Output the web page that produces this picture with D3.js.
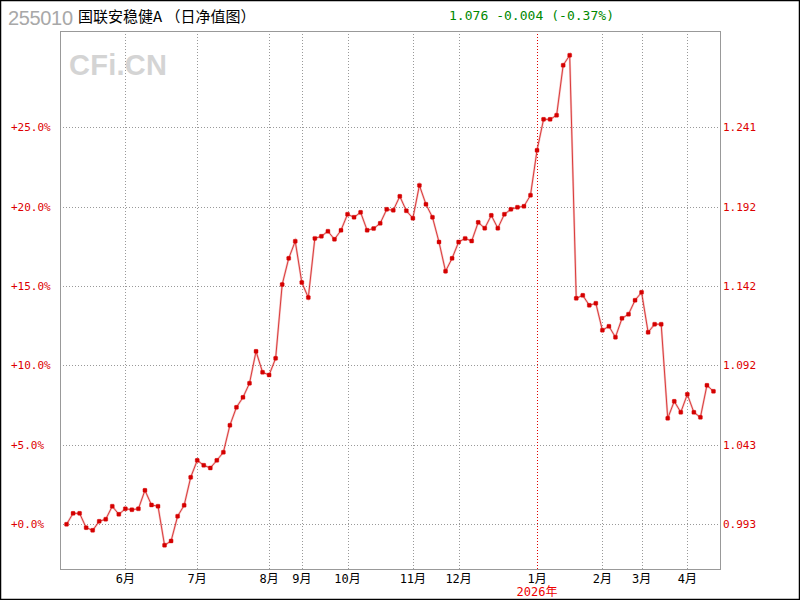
<!DOCTYPE html>
<html><head><meta charset="utf-8">
<script src="https://cdn.jsdelivr.net/npm/d3@7"></script>
<style>html,body{margin:0;padding:0;background:#fff;}</style>
</head><body>
<script>
// ---- data ----
const returns = [
 -0.02,0.67,0.67,-0.23,-0.40,0.17,0.30,1.12,0.61,0.96,
 0.90,0.96,2.12,1.20,1.12,-1.34,-1.07,0.49,1.18,2.94,
 4.01,3.70,3.53,4.01,4.52,6.22,7.35,7.98,8.87,10.88,
 9.56,9.39,10.44,15.09,16.74,17.82,15.22,14.27,18.00,18.13,
 18.45,17.94,18.51,19.52,19.33,19.64,18.51,18.62,18.95,19.83,
 19.77,20.65,19.74,19.27,21.34,20.15,19.33,17.77,15.93,16.74,
 17.77,18.00,17.83,19.01,18.64,19.45,18.64,19.52,19.83,19.96,
 20.02,20.72,23.55,25.50,25.50,25.76,28.91,29.54,14.22,14.41,
 13.78,13.91,12.21,12.46,11.77,12.96,13.22,14.10,14.60,12.08,
 12.59,12.59,6.66,7.73,7.04,8.17,7.04,6.72,8.74,8.36
];
const monthLabels = ["6月","7月","8月","9月","10月","11月","12月","1月","2月","3月","4月"];
const monthIndex  = [9,20,31,36,43,53,60,72,82,88,95];
const yearLabel = "2026年";
const yearIndex = 72;
const pctTicks = [0,5,10,15,20,25];
const pctLabels = ["+0.0%","+5.0%","+10.0%","+15.0%","+20.0%","+25.0%"];
const navLabels = ["0.993","1.043","1.092","1.142","1.192","1.241"];
const fundCode = "255010";
const fundName = "国联安稳健A （日净值图）";
const quote = "1.076 -0.004 (-0.37%)";
const watermark = "CFi.CN";

// ---- drawing ----
const W = 800, H = 600;
const L = 60, R = 720, T = 31, B = 569;
const svg = d3.select("body").append("svg").attr("width", W).attr("height", H)
  .style("display","block");
svg.append("rect").attr("x",0.5).attr("y",0.5).attr("width",W-1).attr("height",H-1)
  .attr("fill","#fff").attr("stroke","#000").attr("stroke-width",1.5);

const x = d3.scaleLinear().domain([-1, returns.length]).range([L, R]);
const y = d3.scaleLinear().domain([0, 25]).range([524, 127.3]);

const font = "'DejaVu Sans Mono','Noto Sans CJK SC',monospace";

// title
svg.append("text").attr("x",8).attr("y",25).text(fundCode)
  .attr("font-family","Arial, 'Liberation Sans', sans-serif").attr("font-size",20)
  .attr("fill","#a8a8a8").attr("textLength",65);
svg.append("text").attr("x",78).attr("y",22).text(fundName)
  .attr("font-family","'Noto Sans CJK SC',sans-serif").attr("font-size",15).attr("fill","#000");
svg.append("text").attr("x",449).attr("y",20).text(quote)
  .attr("font-family",font).attr("font-size",13).attr("fill","#008800").attr("textLength",165);

// watermark
svg.append("text").attr("x",69).attr("y",75).text(watermark)
  .attr("font-family","Arial, 'Liberation Sans', sans-serif").attr("font-weight","bold")
  .attr("font-size",29).attr("fill","#d4d4d4").attr("textLength",98);

// horizontal grid
svg.append("g").selectAll("line").data(pctTicks).join("line")
  .attr("x1",L).attr("x2",R).attr("y1",d=>Math.round(y(d))+0.5).attr("y2",d=>Math.round(y(d))+0.5)
  .attr("stroke","#999").attr("stroke-dasharray","1,2");
// vertical grid
svg.append("g").selectAll("line").data(monthIndex).join("line")
  .attr("x1",d=>Math.round(x(d))+0.5).attr("x2",d=>Math.round(x(d))+0.5).attr("y1",T).attr("y2",B)
  .attr("stroke",d=>d===yearIndex?"#e00000":"#999").attr("stroke-dasharray","1,2");

// frame
svg.append("rect").attr("x",L+0.5).attr("y",T+0.5).attr("width",R-L).attr("height",B-T)
  .attr("fill","none").attr("stroke","#999");

// left labels
svg.append("g").selectAll("text").data(pctTicks).join("text")
  .attr("x",11).attr("y",d=>y(d)+4).text((d,i)=>pctLabels[i])
  .attr("font-family",font).attr("font-size",11).attr("fill","#dd0000");
// right labels
svg.append("g").selectAll("text").data(pctTicks).join("text")
  .attr("x",723).attr("y",d=>y(d)+4).text((d,i)=>navLabels[i])
  .attr("font-family",font).attr("font-size",11).attr("fill","#dd0000");
// month labels
svg.append("g").selectAll("text").data(monthIndex).join("text")
  .attr("x",d=>x(d)).attr("y",583).attr("text-anchor","middle").text((d,i)=>monthLabels[i])
  .attr("font-family",font).attr("font-size",12).attr("fill","#000");
svg.append("text").attr("x",x(yearIndex)).attr("y",596).attr("text-anchor","middle").text(yearLabel)
  .attr("font-family",font).attr("font-size",12).attr("fill","#ee0000");

// line
const line = d3.line().x((d,i)=>x(i)).y(d=>y(d));
svg.append("path").datum(returns).attr("d",line).attr("fill","none")
  .attr("stroke","rgba(220,60,60,0.3)").attr("stroke-width",2.2);
svg.append("path").datum(returns).attr("d",line).attr("fill","none")
  .attr("stroke","#d00000").attr("stroke-width",0.7);
// markers
svg.append("g").selectAll("rect").data(returns).join("rect")
  .attr("x",(d,i)=>x(i)-2).attr("y",d=>y(d)-2).attr("width",4).attr("height",4)
  .attr("rx",0.8).attr("fill","#d40000").attr("stroke","rgba(220,0,0,0.35)").attr("stroke-width",1);
</script>
</body></html>
